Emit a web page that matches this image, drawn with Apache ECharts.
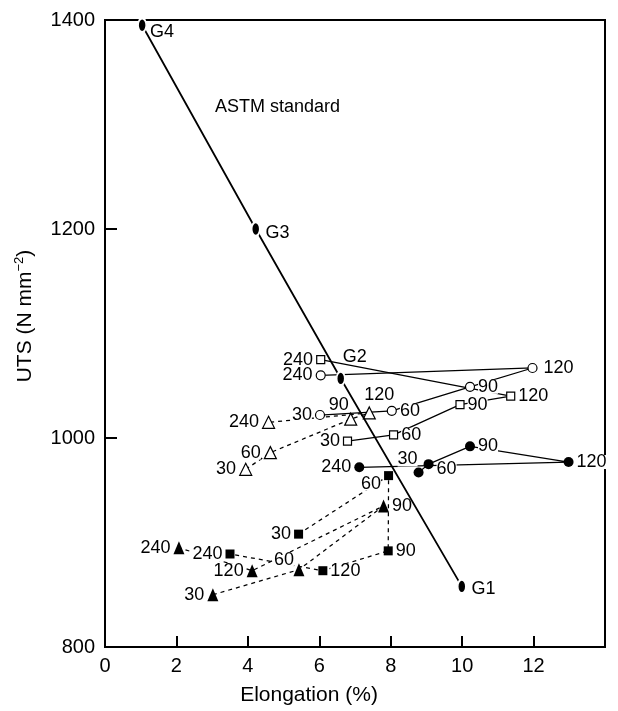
<!DOCTYPE html>
<html>
<head>
<meta charset="utf-8">
<script src="https://cdn.jsdelivr.net/npm/echarts@6/dist/echarts.min.js"></script>
<style>
  html, body { margin: 0; padding: 0; background: #fff; }
  #chart { width: 618px; height: 711px; }
</style>
</head>
<body>
<div id="chart"></div>
<script>
// Austempering time (min) for each point of a series
const times = [30, 60, 90, 120, 240];

// Elongation (%) and UTS (N mm-2), in the order 30, 60, 90, 120, 240 min
const openCircleElong = [6.02, 8.03, 10.22, 11.97, 6.04];
const openCircleUTS = [1022, 1026, 1049, 1067, 1060];

const openSquareElong = [6.79, 8.08, 9.94, 11.36, 6.04];
const openSquareUTS = [997, 1003, 1032, 1040, 1075];

const openTriangleElong = [3.94, 4.63, 6.88, 7.40, 4.58];
const openTriangleUTS = [970, 986, 1018, 1024, 1015];

const filledCircleElong = [8.78, 9.06, 10.22, 12.98, 7.12];
const filledCircleUTS = [967, 975, 992, 977, 972];

const filledSquareElong = [5.42, 7.94, 7.93, 6.10, 3.50];
const filledSquareUTS = [908, 964, 892, 873, 889];

const filledTriangleElong = [3.02, 5.43, 7.80, 4.12, 2.07];
const filledTriangleUTS = [850, 874, 935, 873, 895];

// ASTM grade points
const gradeNames = ['G4', 'G3', 'G2', 'G1'];
const gradeElong = [1.04, 4.22, 6.60, 9.99];
const gradeUTS = [1395, 1200, 1057, 858];
const standardCaption = 'ASTM standard';
const standardCaptionAt = [3.08, 1317];

// Axis ticks
const xTicks = [0, 2, 4, 6, 8, 10, 12];
const yTicks = [800, 1000, 1200, 1400];

// ---- presentation ----
const FONT = "'Liberation Sans', Arial, Helvetica, sans-serif";
const INK = '#000';

// label placement per point: [position, dx, dy]
const place = {
  oc: [['left', 0, 0], ['right', 0, 0], ['right', 0, 0], ['right', 3, 0], ['left', 0, 0]],
  os: [['left', 0, 0], ['right', 0, 0], ['right', 0, 0], ['right', 0, 0], ['left', 0, 0]],
  ot: [['left', 0, 0], ['left', 0, 0], ['inside', -12, -14], ['inside', 10, -18], ['left', 0, 0]],
  fc: [['inside', -11, -13], ['right', 0, 5], ['right', 0, 0], ['right', 0, 0], ['left', 0, 0]],
  fs: [['left', 0, 0], ['left', 0, 8], ['right', 0, 0], ['right', 0, 0], ['left', 0, 0]],
  ft: [['left', 0, 0], ['inside', -15, -10], ['right', 0, 0], ['left', 0, 0], ['left', 0, 0]]
};

const labelBase = {
  show: true,
  formatter: '{b}',
  distance: 3,
  color: INK,
  fontFamily: FONT,
  fontSize: 18,
  backgroundColor: '#fff',
  padding: 0,
  lineHeight: 14
};

function pts(xs, ys, pl) {
  return times.map(function (t, i) {
    return {
      value: [xs[i], ys[i]],
      name: String(t),
      label: { position: pl[i][0], offset: [pl[i][1], pl[i][2]] }
    };
  });
}

function group(name, xs, ys, pl, symbol, size, filled, dashed) {
  return {
    name: name,
    type: 'line',
    data: pts(xs, ys, pl),
    symbol: symbol,
    symbolSize: size,
    showAllSymbol: true,
    z: 3,
    itemStyle: {
      color: filled ? INK : '#fff',
      borderColor: INK,
      borderWidth: filled ? 0 : 1.2
    },
    lineStyle: {
      color: INK,
      width: 1.25,
      type: dashed ? [4, 4] : 'solid'
    },
    label: labelBase,
    emphasis: { disabled: true },
    animation: false
  };
}

const gradeData = gradeNames.map(function (g, i) {
  const lab = [
    { position: 'right', offset: [0, 7] },
    { position: 'right', offset: [2, 4] },
    { position: 'inside', offset: [14, -21] },
    { position: 'right', offset: [2, 3] }
  ][i];
  return { value: [gradeElong[i], gradeUTS[i]], name: g, label: lab };
});

const chart = echarts.init(document.getElementById('chart'), null, { renderer: 'canvas' });

chart.setOption({
  backgroundColor: '#fff',
  animation: false,
  grid: {
    left: 105, right: 13, top: 20, bottom: 64,
    show: true, borderColor: INK, borderWidth: 2, backgroundColor: 'transparent'
  },
  xAxis: {
    type: 'value',
    min: 0, max: 14, interval: 2,
    axisLine: { lineStyle: { color: INK, width: 2 } },
    axisTick: { inside: true, length: 11, lineStyle: { color: INK, width: 2 } },
    axisLabel: {
      color: INK, fontFamily: FONT, fontSize: 20, margin: 9,
      formatter: function (v) { return xTicks.indexOf(v) >= 0 ? String(v) : ''; }
    },
    splitLine: { show: false }
  },
  yAxis: {
    type: 'value',
    min: 800, max: 1400, interval: 200,
    axisLine: { lineStyle: { color: INK, width: 2 } },
    axisTick: { inside: true, length: 12, lineStyle: { color: INK, width: 2 } },
    axisLabel: {
      color: INK, fontFamily: FONT, fontSize: 20, margin: 10,
      formatter: function (v) { return yTicks.indexOf(v) >= 0 ? String(v) : ''; }
    },
    splitLine: { show: false }
  },
  series: [
    {
      name: 'ASTM standard',
      type: 'line',
      data: gradeData,
      symbol: 'circle',
      symbolSize: [8, 14],
      z: 4,
      itemStyle: { color: INK, borderColor: '#fff', borderWidth: 2 },
      lineStyle: { color: INK, width: 1.8 },
      label: { show: true, formatter: '{b}', distance: 3, color: INK, fontFamily: FONT, fontSize: 18 },
      emphasis: { disabled: true },
      animation: false
    },
    group('open circle', openCircleElong, openCircleUTS, place.oc, 'circle', 9, false, false),
    group('open square', openSquareElong, openSquareUTS, place.os, 'rect', 8, false, false),
    group('open triangle', openTriangleElong, openTriangleUTS, place.ot, 'triangle', [12, 12], false, true),
    group('filled circle', filledCircleElong, filledCircleUTS, place.fc, 'circle', 10, true, false),
    group('filled square', filledSquareElong, filledSquareUTS, place.fs, 'rect', 9, true, true),
    group('filled triangle', filledTriangleElong, filledTriangleUTS, place.ft, 'triangle', [11, 13], true, true)
  ]
});

// Captions: axis titles and the caption of the standard line
const captionPos = chart.convertToPixel({ gridIndex: 0 }, standardCaptionAt);
chart.setOption({
  graphic: [
    {
      type: 'text', x: captionPos[0], y: captionPos[1],
      style: { text: standardCaption, fill: INK, font: '18px ' + FONT, align: 'left', verticalAlign: 'middle' }
    },
    {
      type: 'text', left: 'center', top: 685,
      style: { text: 'Elongation (%)', fill: INK, font: '21px ' + FONT }
    },
    {
      type: 'text', x: 25, y: 316, rotation: Math.PI / 2,
      style: {
        text: 'UTS (N mm{sup|−2})',
        fill: INK, font: '21px ' + FONT,
        align: 'center', verticalAlign: 'middle',
        rich: { sup: { fontSize: 13, fontFamily: FONT, fill: INK, verticalAlign: 'top', padding: [0, 0, 12, 0] } }
      }
    }
  ]
});
</script>
</body>
</html>
